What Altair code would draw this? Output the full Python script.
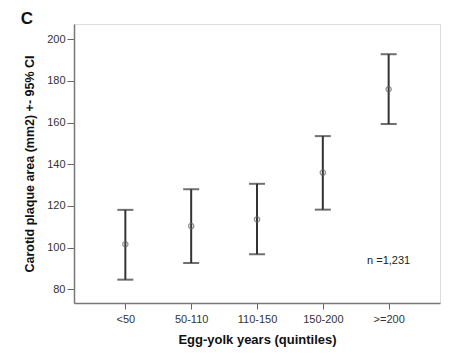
import altair as alt
import pandas as pd

categories = ["<50", "50-110", "110-150", "150-200", ">=200"]
means = [101.6, 110.3, 113.5, 136.0, 176.0]
lower = [84.6, 92.6, 96.8, 118.2, 159.3]
upper = [118.1, 128.0, 130.6, 153.5, 192.8]

df = pd.DataFrame({"cat": categories, "mean": means, "lo": lower, "hi": upper})

font = "Liberation Sans"
xscale = alt.Scale(type="point", domain=categories, padding=0.78)
yscale = alt.Scale(domain=[73.4, 207.3], nice=False, zero=False)

x = alt.X("cat:N", scale=xscale, sort=categories,
          axis=alt.Axis(title="Egg-yolk years (quintiles)", labelAngle=0,
                        labelFont=font, labelFontSize=11, labelColor="#333",
                        titleFont=font, titleFontSize=13, titleFontWeight="bold",
                        titleColor="#111", titlePadding=9,
                        domainColor="#777", domainWidth=1.5, tickColor="#666",
                        tickSize=6, labelPadding=4, grid=False))
y_axis = alt.Axis(title="Carotid plaque area (mm2) +- 95% CI", values=[80, 100, 120, 140, 160, 180, 200],
                  labelFont=font, labelFontSize=11, labelColor="#333",
                  titleFont=font, titleFontSize=12.5, titleFontWeight="bold",
                  titleColor="#111", titlePadding=10,
                  domainColor="#777", domainWidth=1.5, tickColor="#666",
                  tickSize=7, labelPadding=2, grid=False)

base = alt.Chart(df)

rule = base.mark_rule(color="#333", strokeWidth=2).encode(
    x=x, y=alt.Y("lo:Q", scale=yscale, axis=y_axis), y2="hi:Q")
cap_lo = base.mark_tick(color="#333", size=16, thickness=2, orient="horizontal").encode(
    x=alt.X("cat:N", scale=xscale, sort=categories), y=alt.Y("lo:Q", scale=yscale))
cap_hi = base.mark_tick(color="#333", size=16, thickness=2, orient="horizontal").encode(
    x=alt.X("cat:N", scale=xscale, sort=categories), y=alt.Y("hi:Q", scale=yscale))
pts = base.mark_point(shape="circle", filled=False, color="#666", size=28, strokeWidth=1.3).encode(
    x=alt.X("cat:N", scale=xscale, sort=categories), y=alt.Y("mean:Q", scale=yscale))

note = alt.Chart(pd.DataFrame({"cat": [">=200"], "v": [93.6], "t": ["n =1,231"]})).mark_text(
    font=font, fontSize=11, color="#222").encode(
    x=alt.X("cat:N", scale=xscale, sort=categories), y=alt.Y("v:Q", scale=yscale), text="t:N")

letter = alt.Chart(pd.DataFrame({"t": ["C"]})).mark_text(
    font=font, fontSize=17, fontWeight="bold", color="#111").encode(
    x=alt.value(-47), y=alt.value(-5), text="t:N")

chart = alt.layer(rule, cap_lo, cap_hi, pts, note, letter).properties(
    width=366, height=279,
    autosize=alt.AutoSizeParams(type="none"),
    padding={"left": 66, "top": 16, "right": 10, "bottom": 52},
).configure_view(stroke="#aaa", strokeWidth=2.5).configure(background="white")

chart.save("out.html", embed_options={"renderer": "svg", "actions": False})
